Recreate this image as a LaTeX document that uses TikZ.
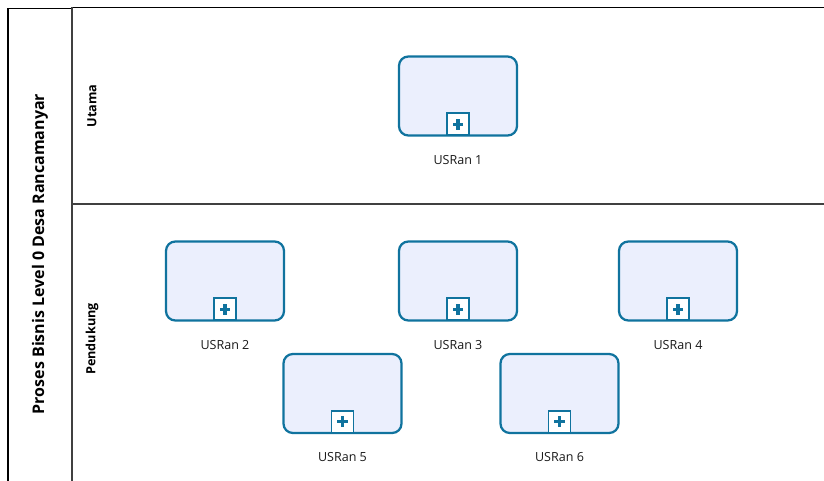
\documentclass[tikz,border=0pt]{standalone}
\usepackage{fontspec}
\setmainfont{Open Sans}
\definecolor{taskline}{HTML}{10739E}
\definecolor{taskfill}{HTML}{EBEFFD}
\tikzset{
  px/.style={x=0.75pt,y=-0.75pt},
  poolline/.style={draw=black,line width=0.9pt},
  laneline/.style={draw=black!75,line width=0.8pt},
  subtask/.style={draw=taskline,fill=taskfill,line width=1.7pt,rounded corners=7pt,
    minimum width=88.5pt,minimum height=59.25pt,inner sep=0pt},
  submark/.style={draw=taskline,fill=white,line width=1.4pt,minimum size=16.5pt,inner sep=0pt},
  tasklabel/.style={font=\fontsize{9.4}{11}\selectfont,text=black!90,inner sep=0pt},
  pooltitle/.style={font=\bfseries\fontsize{12}{14}\selectfont,rotate=90,inner sep=0pt},
  lanetitle/.style={font=\bfseries\fontsize{9.5}{11}\selectfont,rotate=90,inner sep=0pt},
}
\newcommand{\plusmark}[1]{%
  \fill[taskline] ([xshift=-4pt,yshift=-1.25pt]#1.center) rectangle ([xshift=4pt,yshift=1.25pt]#1.center);
  \fill[taskline] ([xshift=-1.25pt,yshift=-4pt]#1.center) rectangle ([xshift=1.25pt,yshift=4pt]#1.center);}
\begin{document}
\begin{tikzpicture}[px]
\useasboundingbox (0,0) rectangle (824,481);
% pool and lanes
\draw[poolline] (8,482) -- (8,8.5) -- (72,8.5);
\draw[poolline] (72,7.5) -- (824,7.5);
\draw[laneline] (72,7.5) -- (72,482);
\draw[laneline] (72,204) -- (824,204);
\node[pooltitle] (pool) at (40,254) {Proses Bisnis Level 0 Desa Rancamanyar};
\node[lanetitle] (utama) at (92,106) {Utama};
\node[lanetitle] (pendukung) at (92,339) {Pendukung};
% collapsed sub-processes
\foreach \n/\cx/\cy in {1/458/96, 2/225/281, 3/458/281, 4/678/281, 5/342.5/393.5, 6/559.5/393.5}{
  \node[subtask] (t\n) at (\cx,\cy) {};
  \node[submark,anchor=south] (m\n) at ([yshift=0.3pt]t\n.south) {};
  \plusmark{m\n}
  \node[tasklabel] (l\n) at (\cx,\cy+64) {USRan \n};
}
\end{tikzpicture}
\end{document}
